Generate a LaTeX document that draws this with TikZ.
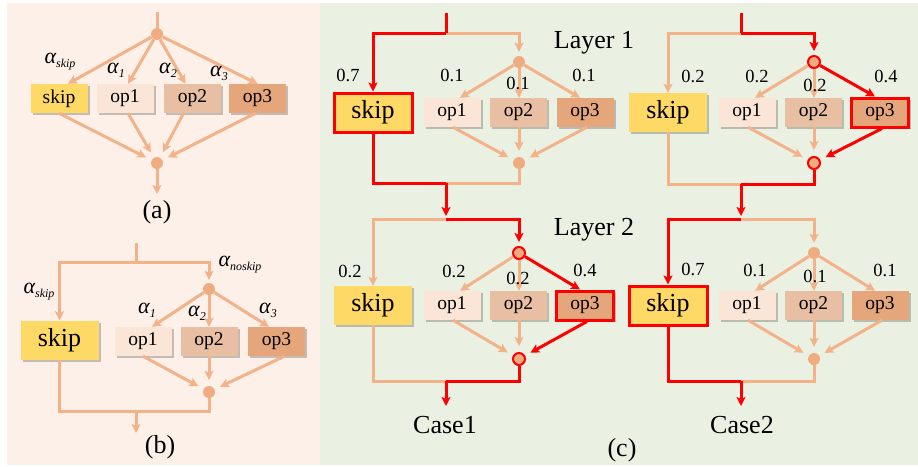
\documentclass[tikz,border=0pt]{standalone}
\usepackage{fontspec}
\setmainfont{Liberation Serif}
\usetikzlibrary{arrows.meta}
\definecolor{bgpeach}{HTML}{FCF0E8}
\definecolor{bggreen}{HTML}{EAF1E3}
\definecolor{wireor}{HTML}{F3B287}
\definecolor{dotor}{HTML}{EFAC80}
\definecolor{skipy}{HTML}{FFD966}
\definecolor{op1c}{HTML}{FBE5D6}
\definecolor{op2c}{HTML}{E8BFA2}
\definecolor{op3c}{HTML}{E6A67C}
\definecolor{hotred}{HTML}{FF0000}
\colorlet{shade}{black!22!bgpeach}

% alpha weight label with an italic subscript
\newcommand\alphalab[1]{{\fontsize{22}{22}\selectfont\itshape α}\raisebox{-4pt}{\fontsize{12}{12}\selectfont\itshape #1}}

% one searchable cell: #1 prefix, #2 top rail, #3 upper dot, #4 box row,
% #5 lower dot, #6 bottom rail, #7 chosen path (S = skip, O = op3)
\newcommand\cellblk[7]{%
  \if#7S
    \tikzset{skpath/.style={hot}, oppath/.style={wire}, skbox/.style={hotbox},
             othreebox/.style={}, cdot/.style={dotn}}
  \else
    \tikzset{skpath/.style={wire}, oppath/.style={hot}, skbox/.style={},
             othreebox/.style={hotbox}, cdot/.style={hotdot}}
  \fi
  \coordinate (#1J) at (446,#2);
  \coordinate (#1B) at (446,#6);
  \node[cdot] (#1D1) at (519,#3) {};
  \node[bigbox, fill=skipy, skbox, label={[bigtext]center:skip}] (#1S) at (373,#4) {};
  \node[opbox, fill=op1c, label={[optext]center:op1}] (#1O1) at (452,#4) {};
  \node[opbox, fill=op2c, label={[optext]center:op2}] (#1O2) at (518.5,#4) {};
  \node[opbox, fill=op3c, othreebox, label={[optext]center:op3}] (#1O3) at (585,#4) {};
  \node[cdot] (#1D2) at (519,#5) {};
  \draw[wire,tip] (#1D1) -- ([xshift=8pt]#1O1.north);
  \draw[wire,tip] (#1D1) -- ([xshift=0.5pt]#1O2.north);
  \draw[wire,tip,shorten >=6pt] ([xshift=1pt]#1O1.south) -- (#1D2);
  \draw[wire,tip,shorten >=6pt] ([xshift=0.5pt]#1O2.south) -- (#1D2);
  \draw[skpath,tip] (#1J) -| (#1S.north);
  \draw[oppath,tip,shorten >=4pt] (#1J) -| (#1D1);
  \draw[oppath,tip] (#1D1) -- ([xshift=-5pt]#1O3.north);
  \draw[oppath,tip,shorten >=6pt] ([xshift=2pt]#1O3.south) -- (#1D2);
  \draw[skpath] (#1S.south) |- (#1B);
  \draw[oppath] (#1D2) |- (#1B);
}

\begin{document}
\begin{tikzpicture}[x=1pt,y=-1pt,
  wire/.style={draw=wireor, line width=3pt},
  hot/.style={draw=hotred, line width=3pt},
  tip/.style={-{Stealth[length=9pt,width=9pt,inset=2pt]}},
  dotn/.style={circle, fill=dotor, inner sep=0pt, minimum size=12pt},
  hotdot/.style={dotn, draw=hotred, line width=2pt},
  opbox/.style={inner sep=0pt, minimum width=57pt, minimum height=29pt,
    preaction={fill=shade, transform canvas={xshift=2pt, yshift=-2pt}}},
  bigbox/.style={opbox, minimum width=78pt, minimum height=39pt},
  optext/.style={font=\fontsize{19.5}{20}\selectfont, inner sep=0pt},
  bigtext/.style={font=\fontsize{26}{26}\selectfont, inner sep=0pt},
  hotbox/.style={draw=hotred, line width=3pt},
  wlab/.style={font=\fontsize{18.5}{19}\selectfont, inner sep=0pt},
  alab/.style={inner sep=0pt},
  captext/.style={font=\fontsize{26}{26}\selectfont, inner sep=0pt, anchor=base}]
\useasboundingbox (0,0) rectangle (918,466);
\fill[bgpeach] (7,3) rectangle (320,465);
\fill[bggreen] (320,3) rectangle (918,465);

% ---------- (a) plain mixed operation ----------
\coordinate (ain) at (157,12);
\node[dotn] (a1) at (157,34) {};
\node[opbox, fill=skipy, label={[optext]center:skip}] (aS) at (59,98.5) {};
\node[opbox, fill=op1c, label={[optext]center:op1}] (aO1) at (125,98.5) {};
\node[opbox, fill=op2c, label={[optext]center:op2}] (aO2) at (192.5,98.5) {};
\node[opbox, fill=op3c, label={[optext]center:op3}] (aO3) at (257.5,98.5) {};
\node[dotn] (a2) at (157,163) {};
\coordinate (aout) at (157,194);
\draw[wire] (ain) -- (a1);
\draw[wire,tip] (a1) -- ([xshift=9pt]aS.north);
\draw[wire,tip] (a1) -- ([xshift=3pt]aO1.north);
\draw[wire,tip] (a1) -- ([xshift=-7pt]aO2.north);
\draw[wire,tip] (a1) -- (aO3.north);
\draw[wire,tip,shorten >=6pt] (aS.south) -- (a2);
\draw[wire,tip,shorten >=6pt] ([xshift=3pt]aO1.south) -- (a2);
\draw[wire,tip,shorten >=6pt] ([xshift=-9pt]aO2.south) -- (a2);
\draw[wire,tip,shorten >=6pt] ([xshift=-2pt]aO3.south) -- (a2);
\draw[wire,tip] (a2) -- (aout);
\node[alab] (aw0) at (60,62) {\alphalab{skip}};
\node[alab] (aw1) at (116,70) {\alphalab{1}};
\node[alab] (aw2) at (168,70) {\alphalab{2}};
\node[alab] (aw3) at (219,73) {\alphalab{3}};
\node[captext] (capa) at (157,218) {(a)};

% ---------- (b) skip split from the other operations ----------
\coordinate (bin) at (136,243);
\coordinate (bj) at (136,262);
\node[dotn] (b1) at (209,289) {};
\node[bigbox, fill=skipy, label={[bigtext]center:skip}] (bS) at (59.5,340) {};
\node[opbox, fill=op1c, label={[optext]center:op1}] (bO1) at (143,341.5) {};
\node[opbox, fill=op2c, label={[optext]center:op2}] (bO2) at (209,341.5) {};
\node[opbox, fill=op3c, label={[optext]center:op3}] (bO3) at (276.5,341.5) {};
\node[dotn] (b2) at (209,392) {};
\coordinate (bm) at (136,411);
\coordinate (bout) at (136,433);
\draw[wire] (bin) -- (bj);
\draw[wire,tip] (bj) -| (bS.north);
\draw[wire,tip,shorten >=3pt] (bj) -| (b1);
\draw[wire,tip] (b1) -- ([xshift=9pt]bO1.north);
\draw[wire,tip] (b1) -- (bO2.north);
\draw[wire,tip] (b1) -- ([xshift=-7.5pt]bO3.north);
\draw[wire,tip,shorten >=6pt] (bO1.south) -- (b2);
\draw[wire,tip,shorten >=6pt] (bO2.south) -- (b2);
\draw[wire,tip,shorten >=6pt] ([xshift=8pt]bO3.south) -- (b2);
\draw[wire] (bS.south) |- (bm) -| (b2);
\draw[wire,tip] (bm) -- (bout);
\node[alab] (bwn) at (240,265) {\alphalab{noskip}};
\node[alab] (bws) at (39,292) {\alphalab{skip}};
\node[alab] (bw1) at (147,310) {\alphalab{1}};
\node[alab] (bw2) at (197,313) {\alphalab{2}};
\node[alab] (bw3) at (268,310) {\alphalab{3}};
\node[captext] (capb) at (160,453) {(b)};

% ---------- (c) two sampled paths through two layers ----------
\colorlet{shade}{black!22!bggreen}
\cellblk{p}{33}{62}{112.5}{163}{183}{S}
\cellblk{q}{219}{253}{305.5}{359}{381}{O}
\begin{scope}[shift={(295,0)}]
\cellblk{r}{33}{62}{112.5}{163}{184}{O}
\cellblk{s}{219}{253}{305.5}{359}{381}{S}
\coordinate (rin) at (446,13);
\coordinate (sout) at (446,406);
\end{scope}
\coordinate (pin) at (446,13);
\coordinate (qout) at (446,406);
\draw[hot] (pin) -- (pJ);
\draw[hot,tip,shorten >=3pt] (pB) -- (qJ);
\draw[hot,tip] (qB) -- (qout);
\draw[hot] (rin) -- (rJ);
\draw[hot,tip,shorten >=3pt] (rB) -- (sJ);
\draw[hot,tip] (sB) -- (sout);

\node[wlab] (wp0) at (348,75) {0.7};
\node[wlab] (wp1) at (452,75) {0.1};
\node[wlab] (wp2) at (518,83) {0.1};
\node[wlab] (wp3) at (584,75) {0.1};
\node[wlab] (wq0) at (350,271) {0.2};
\node[wlab] (wq1) at (454,271) {0.2};
\node[wlab] (wq2) at (518,278) {0.2};
\node[wlab] (wq3) at (585,270) {0.4};
\node[wlab] (wr0) at (693,76) {0.2};
\node[wlab] (wr1) at (757,76) {0.2};
\node[wlab] (wr2) at (815,85) {0.2};
\node[wlab] (wr3) at (886,76) {0.4};
\node[wlab] (ws0) at (693,269) {0.7};
\node[wlab] (ws1) at (755,270) {0.1};
\node[wlab] (ws2) at (815,276) {0.1};
\node[wlab] (ws3) at (885,270) {0.1};

\node[captext] (lay1) at (594,48) {Layer 1};
\node[captext] (lay2) at (594,235) {Layer 2};
\node[captext] (case1) at (445,433) {Case1};
\node[captext] (case2) at (742,433) {Case2};
\node[captext] (capc) at (622,456) {(c)};
\end{tikzpicture}
\end{document}
